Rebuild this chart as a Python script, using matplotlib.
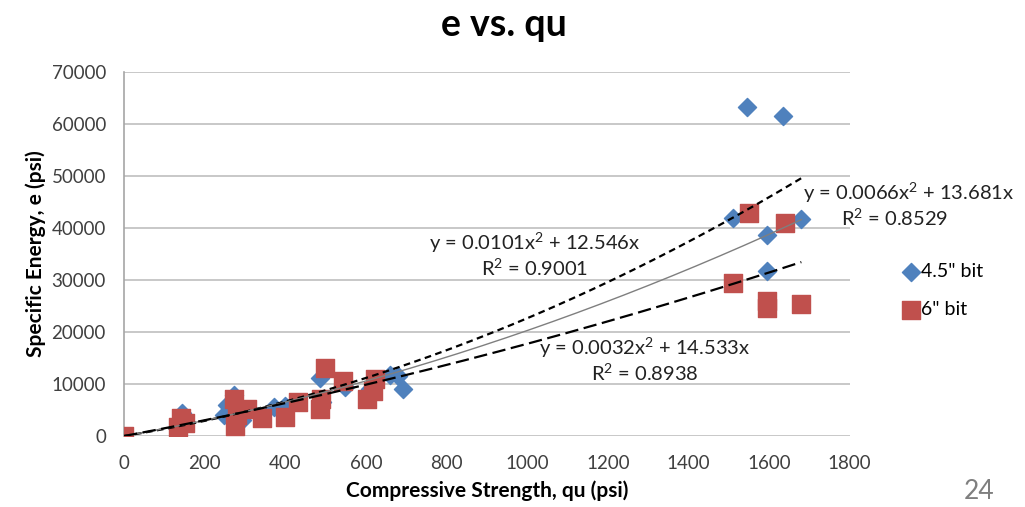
import matplotlib.pyplot as plt
import numpy as np

# Compressive strength (psi) and specific energy (psi) for each bit size
qu_45 = [145, 248, 255, 272, 292, 305, 372, 400, 486, 492, 548,
         610, 660, 680, 692, 1510, 1545, 1596, 1596, 1634, 1678]
e_45 = [4500, 4000, 6000, 7800, 3000, 4800, 5600, 5800, 11200, 6500, 9400,
        9000, 11800, 11600, 9000, 42000, 63300, 38700, 31800, 61500, 41800]

qu_6 = [0, 135, 142, 152, 272, 275, 280, 305, 342, 399, 431,
        486, 488, 498, 543, 602, 618, 622, 1510, 1550, 1596, 1596, 1640, 1680]
e_6 = [0, 1800, 3500, 2500, 7200, 2000, 4000, 5200, 3500, 3600, 6500,
       5200, 7200, 13000, 10500, 7200, 8600, 11000, 29500, 42800, 26000, 24600, 41000, 25300]

# Polynomial trend lines (through the origin): (a, b) for y = a*x^2 + b*x
fit_45 = (0.0101, 12.546)
fit_all = (0.0066, 13.681)
fit_6 = (0.0032, 14.533)

x_ticks = list(range(0, 2000, 200))
y_ticks = list(range(0, 80000, 10000))

plt.rcParams['font.family'] = ['Lato', 'DejaVu Sans']
plt.rcParams['mathtext.fontset'] = 'custom'
plt.rcParams['mathtext.rm'] = 'Lato'
plt.rcParams['mathtext.it'] = 'Lato'
plt.rcParams['mathtext.default'] = 'regular'

fig = plt.figure(figsize=(10.25, 5.07), dpi=100)
ax = fig.add_axes([0.121, 0.140, 0.708, 0.718])

blue = '#4F81BD'
red = '#C0504D'

ax.scatter(qu_45, e_45, marker='D', s=85, color=blue, zorder=3, label='4.5" bit')
ax.scatter(qu_6, e_6, marker='s', s=160, color=red, zorder=3, label='6" bit')

# Trend lines
xs = np.linspace(0, max(qu_45 + qu_6), 200)
a, b = fit_45
ax.plot(xs, a * xs**2 + b * xs, color='black', lw=1.6, ls=(0, (3, 2)), zorder=4)
a, b = fit_all
ax.plot(xs, a * xs**2 + b * xs, color='#7f7f7f', lw=1.0, zorder=4)
a, b = fit_6
ax.plot(xs, a * xs**2 + b * xs, color='black', lw=1.6, ls=(0, (6, 2.5)), zorder=4)

# Trend line equations
eq_kw = dict(fontsize=14.5, color='#222222', ha='center', va='center', zorder=5)
ax.text(1019, 37100, r'y = 0.0101x$^{2}$ + 12.546x', **eq_kw)
ax.text(1019, 32300, r'R$^{2}$ = 0.9001', **eq_kw)
ax.text(1292, 16900, r'y = 0.0032x$^{2}$ + 14.533x', **eq_kw)
ax.text(1292, 12100, r'R$^{2}$ = 0.8938', **eq_kw)
ax.text(1683, 46700, r'y = 0.0066x$^{2}$ + 13.681x', clip_on=False,
        **{**eq_kw, 'ha': 'left'})
ax.text(1912, 41900, r'R$^{2}$ = 0.8529', clip_on=False, **eq_kw)

ax.set_xlim(0, 1800)
ax.set_ylim(0, 70000)
ax.set_xticks(x_ticks)
ax.set_yticks(y_ticks)
ax.tick_params(length=0, labelsize=13.5, labelcolor='#404040')
ax.tick_params(axis='y', pad=13)
ax.tick_params(axis='x', pad=14)
ax.yaxis.grid(True, color='#BFBFBF', lw=1.2)
ax.set_axisbelow(True)
for side in ['top', 'right', 'bottom']:
    ax.spines[side].set_visible(False)
ax.spines['left'].set_color('#A6A6A6')
ax.spines['left'].set_linewidth(1.2)

ax.set_xlabel('Compressive Strength, qu (psi)', fontsize=15, fontweight='bold', labelpad=6)
ax.set_ylabel('Specific Energy, e (psi)', fontsize=15, fontweight='bold', labelpad=4)
fig.suptitle('e vs. qu', fontsize=27, fontweight='bold', x=0.492, y=0.985)

ax.legend(loc='center left', bbox_to_anchor=(1.06, 0.40), frameon=False,
          fontsize=14, handletextpad=0.05, labelspacing=1.1, handlelength=1.0,
          borderaxespad=0)

fig.text(0.955, 0.03, '24', fontsize=19, color='#7f7f7f', ha='center', va='center')

fig.savefig('out.png', dpi=100)
